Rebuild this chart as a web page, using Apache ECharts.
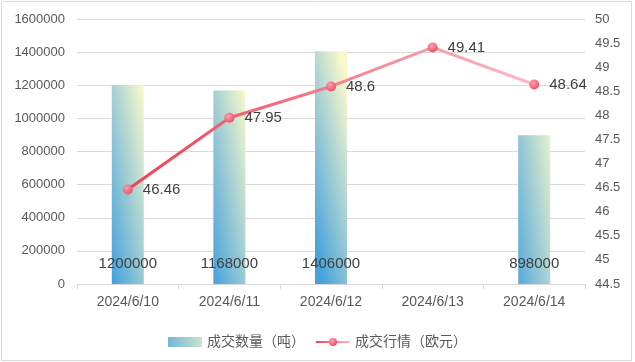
<!DOCTYPE html>
<html>
<head>
<meta charset="utf-8">
<script src="https://cdn.jsdelivr.net/npm/echarts@6/dist/echarts.min.js"></script>
<style>
html,body{margin:0;padding:0;background:#fff;}
#c{width:635px;height:362px;}
</style>
</head>
<body>
<div id="c"></div>
<script>
const categories = ['2024/6/10', '2024/6/11', '2024/6/12', '2024/6/13', '2024/6/14'];
const volumeValues = [1200000, 1168000, 1406000, null, 898000];
const priceValues = [46.46, 47.95, 48.6, 49.41, 48.64];
const volumeName = '成交数量（吨）';
const priceName = '成交行情（欧元）';

const FONT = '"Liberation Sans", "Noto Sans CJK SC", sans-serif';
const chart = echarts.init(document.getElementById('c'), null, {renderer: 'canvas'});

const barGradient = new echarts.graphic.LinearGradient(-0.5, 0.53, 1.5, 0.47, [
  {offset: 0, color: '#45a2dc'},
  {offset: 1, color: '#f8f8cb'}
]);
const lineGradient = new echarts.graphic.LinearGradient(0, 0, 1, 0, [
  {offset: 0, color: '#ef3f57'},
  {offset: 1, color: '#fcbcc7'}
]);
const dotGradient = new echarts.graphic.RadialGradient(0.4, 0.35, 0.7, [
  {offset: 0, color: '#ffa3b0'},
  {offset: 1, color: '#f0475c'}
]);

chart.setOption({
  animation: false,
  textStyle: {fontFamily: FONT},
  graphic: [{
    type: 'rect', silent: true, z: -1,
    shape: {x: 1.5, y: 1.5, width: 630, height: 359},
    style: {fill: 'none', stroke: '#d9d9d9', lineWidth: 1}
  }],
  legend: {
    left: 'center', top: 330,
    itemWidth: 34, itemHeight: 10, itemGap: 10,
    textStyle: {fontSize: 14, color: '#595959', fontFamily: FONT},
    data: [
      {name: volumeName, icon: 'rect'},
      {name: priceName}
    ]
  },
  grid: {left: 77, right: 50, top: 19, bottom: 78, containLabel: false},
  xAxis: {
    type: 'category',
    data: categories,
    boundaryGap: true,
    axisLine: {lineStyle: {color: '#d9d9d9'}},
    axisTick: {show: true, length: 5, lineStyle: {color: '#d9d9d9'}},
    axisLabel: {fontSize: 14, color: '#595959', margin: 11, fontFamily: FONT}
  },
  yAxis: [{
    type: 'value', min: 0, max: 1600000, interval: 200000,
    axisLine: {show: false}, axisTick: {show: false},
    splitLine: {lineStyle: {color: '#d9d9d9'}},
    axisLabel: {fontSize: 13, color: '#595959', margin: 12, fontFamily: FONT,
      formatter: v => String(v)}
  }, {
    type: 'value', min: 44.5, max: 50, interval: 0.5,
    axisLine: {show: false}, axisTick: {show: false},
    splitLine: {show: false},
    axisLabel: {fontSize: 13, color: '#595959', margin: 10, fontFamily: FONT,
      formatter: v => String(v)}
  }],
  series: [{
    name: volumeName,
    type: 'bar',
    data: volumeValues,
    barWidth: 32,
    itemStyle: {color: barGradient},
    label: {
      show: true, position: 'insideBottom', distance: 13,
      fontSize: 15, color: '#404040', fontFamily: FONT
    }
  }, {
    name: priceName,
    type: 'line',
    yAxisIndex: 1,
    data: priceValues,
    symbol: 'circle', symbolSize: 10,
    lineStyle: {color: lineGradient, width: 3},
    itemStyle: {color: dotGradient},
    label: {
      show: true, position: 'right', distance: 10,
      fontSize: 15, color: '#404040', fontFamily: FONT
    },
    z: 3
  }]
});
</script>
</body>
</html>
